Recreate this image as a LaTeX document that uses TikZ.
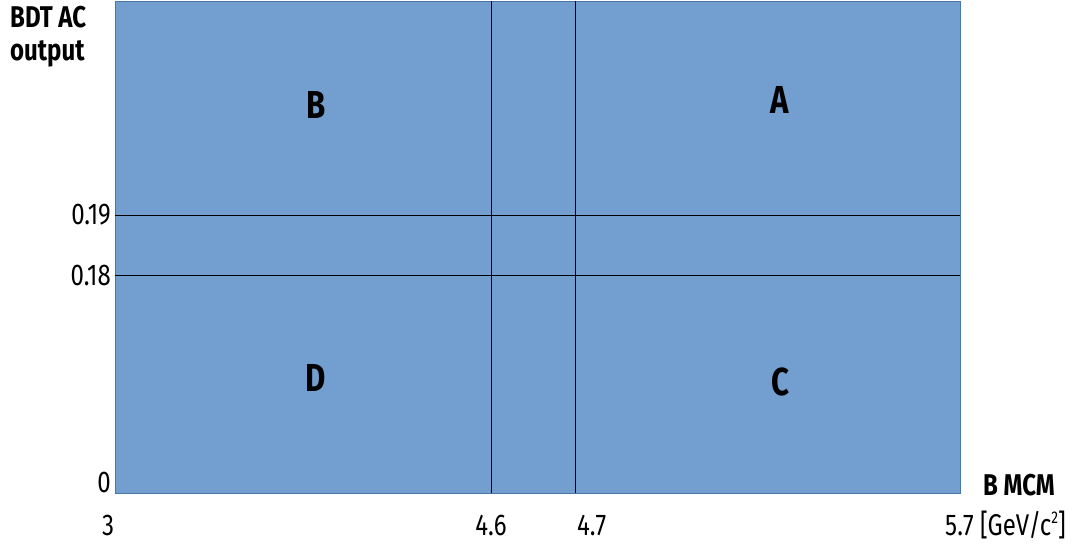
\documentclass[tikz,border=0pt]{standalone}
\usepackage{fontspec}
\setmainfont{Fira Sans}[FakeStretch=0.8]
\usetikzlibrary{positioning}
\definecolor{planeFill}{HTML}{729FCF}
\definecolor{planeEdge}{HTML}{4A76A8}
\tikzset{
    x=1pt, y=-1pt,
    % Regions
    plane/.style={draw=planeEdge, fill=planeFill, line width=0.8pt},
    cut/.style={draw=black, line width=0.9pt},
    % Labels
    region/.style={font=\fontsize{39}{39}\selectfont\bfseries, inner sep=0pt},
    tick/.style={font=\fontsize{30}{30}\selectfont, inner sep=0pt},
    axis/.style={font=\fontsize{30}{33}\selectfont\bfseries, inner sep=0pt, align=left}
}
\newcommand{\sqsup}[1]{\raisebox{0.75ex}{\fontsize{17}{17}\selectfont #1}}
\begin{document}
\begin{tikzpicture}
\useasboundingbox (0,0) rectangle (1083,544);

\draw[plane] (115,1) rectangle (960,493);

% cut lines
\coordinate (m46t) at (491,1);   \coordinate (m46b) at (491,493);
\coordinate (m47t) at (575,1);   \coordinate (m47b) at (575,493);
\coordinate (b19l) at (115,215); \coordinate (b19r) at (960,215);
\coordinate (b18l) at (115,275); \coordinate (b18r) at (960,275);
\draw[cut] (m46t) -- (m46b);
\draw[cut] (m47t) -- (m47b);
\draw[cut] (b19l) -- (b19r);
\draw[cut] (b18l) -- (b18r);

% regions
\node[region] (regB) at (316,105) {B};
\node[region] (regA) at (780,100) {A};
\node[region] (regD) at (316,378) {D};
\node[region] (regC) at (780,382) {C};

% axes
\node[axis, anchor=north west] (yTitle) at (10,6) {BDT AC\\output};
\node[axis, anchor=east] (xTitle) at (1055,485) {B MCM};
\node[tick, anchor=east] (y19) at (111,215) {0.19};
\node[tick, anchor=east] (y18) at (111,275) {0.18};
\node[tick, anchor=east] (y0) at (111,482) {0};
\node[tick] (x3) at (108,525) {3};
\node[tick] (x46) at (491,525) {4.6};
\node[tick, anchor=west] (x47) at (577,525) {4.7};
\node[tick, anchor=east] (x57) at (1066,525) {5.7 [GeV/c\sqsup{2}]};
\end{tikzpicture}
\end{document}
